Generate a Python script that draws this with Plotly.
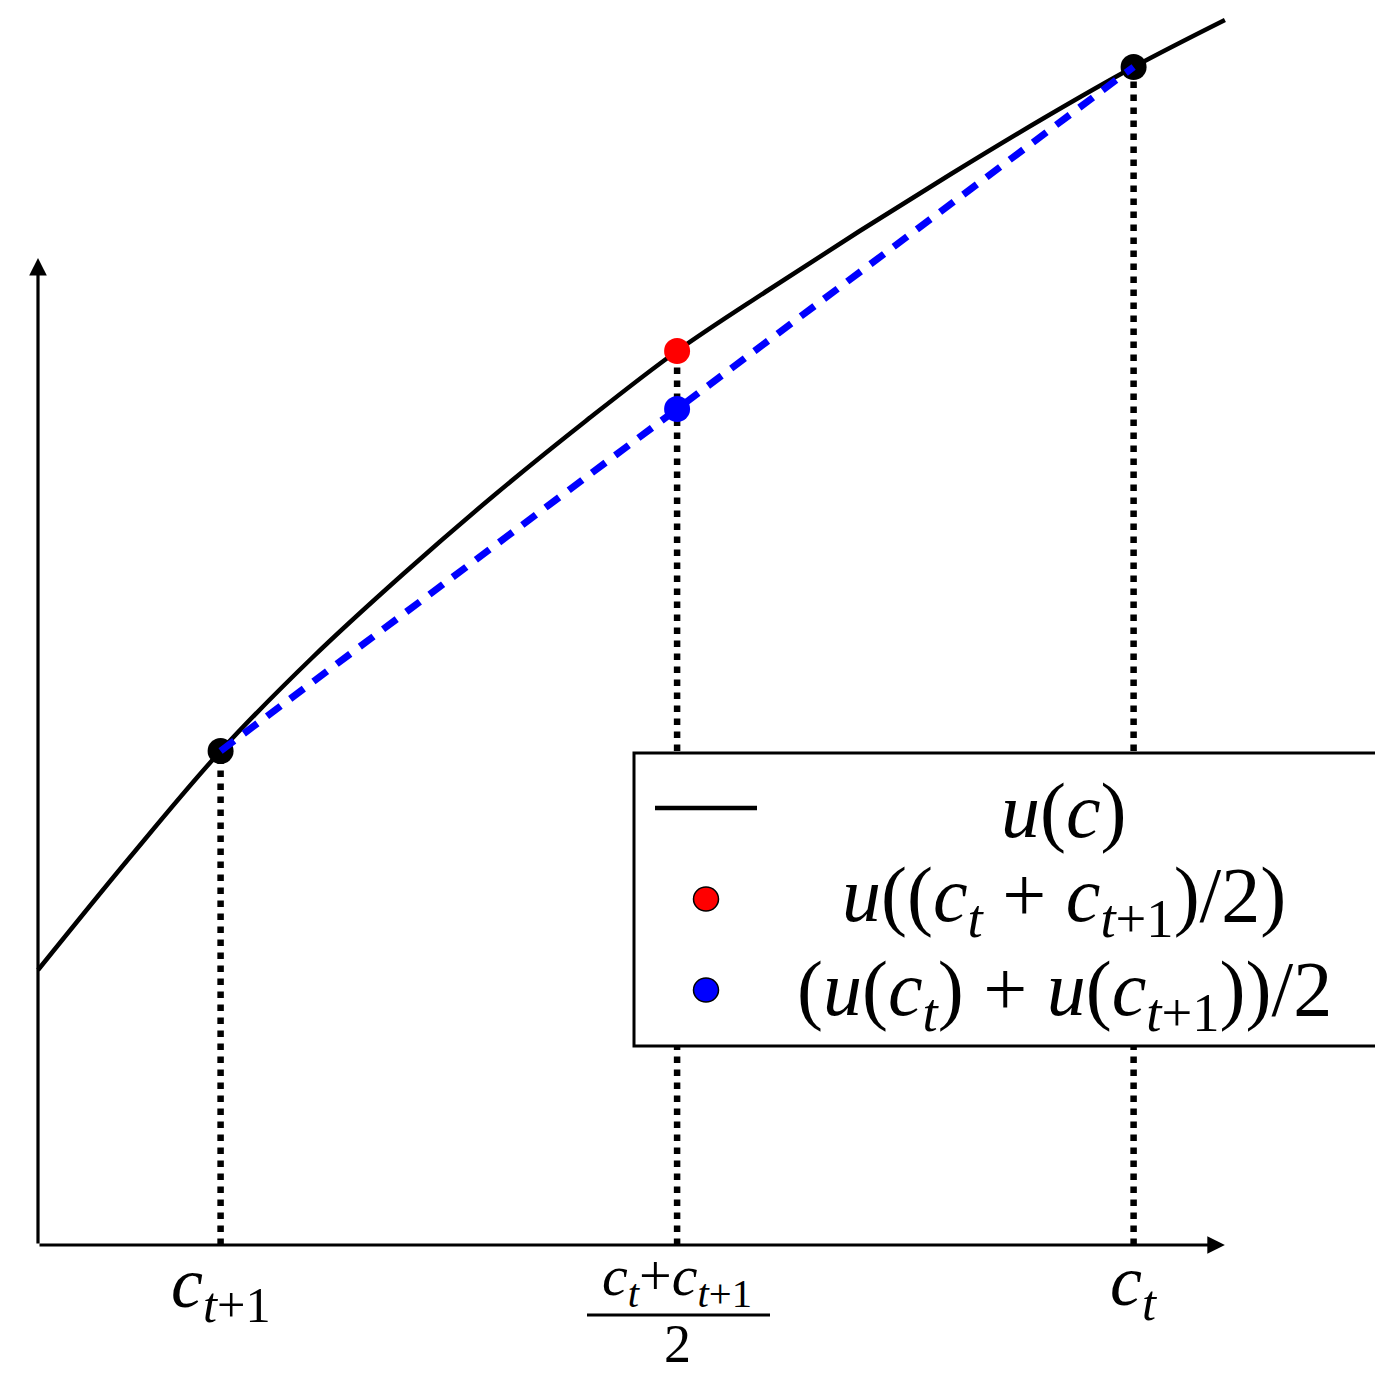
import plotly.graph_objects as go

# ---------------- data ----------------
c_grid = [0.0, 0.5, 1.0, 1.5, 2.0, 2.5, 3.0, 3.5, 4.0, 4.5, 5.0, 5.5, 6.0, 6.5]
u_vals = [2.75, 3.87, 4.94, 5.87, 6.71, 7.50, 8.24, 8.94, 9.55, 10.14, 10.71, 11.26, 11.78, 12.25]

c_points = [1.0, 6.0]          # c_{t+1}, c_t
u_points = [4.94, 11.78]       # u(c_{t+1}), u(c_t)
c_mid = [3.5]                  # (c_t + c_{t+1})/2
u_of_mid = [8.94]              # u((c_t + c_{t+1})/2)
mid_of_u = [8.36]              # (u(c_t) + u(c_{t+1}))/2

tick_vals = [1.0, 3.5, 6.0]
axis_x_end = 6.5
axis_y_end = 9.87

legend_labels = [
    "<i>u</i>(<i>c</i>)",
    "<i>u</i>((<i>c</i><sub><i>t</i></sub> + <i>c</i><sub><i>t</i>+1</sub>)/2)",
    "(<i>u</i>(<i>c</i><sub><i>t</i></sub>) + <i>u</i>(<i>c</i><sub><i>t</i>+1</sub>))/2",
]
tick_label_left = "<i>c</i><sub><i>t</i>+1</sub>"
tick_label_right = "<i>c</i><sub><i>t</i></sub>"
frac_num = "<i>c</i><sub><i>t</i></sub>+<i>c</i><sub><i>t</i>+1</sub>"
frac_den = "2"

# ---------------- figure ----------------
OFF = 8                      # default body margin of the html page
W, H = 1383 - OFF, 1390 - 2 * OFF - 8
FONT = "Liberation Serif"
XS = 182.6                   # px per x unit
YS = 100.0                   # px per y unit


def pxx(x):
    return (x - OFF) / W


def pxy(y):
    return 1 - (y - OFF) / H


x0_px = 38 - OFF
y0_px = 1245 - OFF

fig = go.Figure()

# dotted verticals
for cx, uy in zip(c_points + c_mid, u_points + u_of_mid):
    fig.add_trace(go.Scatter(x=[cx, cx], y=[0, uy], mode="lines",
                             line=dict(color="black", width=6.5, dash="dot"),
                             showlegend=False, hoverinfo="skip"))

# utility curve
fig.add_trace(go.Scatter(x=c_grid, y=u_vals, mode="lines",
                         line=dict(color="black", width=4.5, shape="spline", smoothing=1.0),
                         name="u(c)", showlegend=False))

# black endpoints
fig.add_trace(go.Scatter(x=c_points, y=u_points, mode="markers",
                         marker=dict(color="black", size=26),
                         showlegend=False))

# blue dashed chord
fig.add_trace(go.Scatter(x=c_points, y=u_points, mode="lines",
                         line=dict(color="blue", width=7, dash="17px,12px"),
                         showlegend=False))

# red & blue points
fig.add_trace(go.Scatter(x=c_mid, y=u_of_mid, mode="markers",
                         marker=dict(color="red", size=26), showlegend=False))
fig.add_trace(go.Scatter(x=c_mid, y=mid_of_u, mode="markers",
                         marker=dict(color="blue", size=26), showlegend=False))

annotations = []
# axes arrows
for (tx, ty) in [(axis_x_end, 0), (0, axis_y_end)]:
    annotations.append(dict(x=tx, y=ty, ax=0, ay=0, xref="x", yref="y", axref="x", ayref="y",
                            text="", showarrow=True, arrowhead=2, arrowsize=1.1, arrowwidth=3.2,
                            arrowcolor="black", standoff=0, startstandoff=0))

# tick labels
annotations.append(dict(x=tick_vals[0], y=pxy(1288), xref="x", yref="paper", text=tick_label_left,
                        showarrow=False, font=dict(family=FONT, size=72, color="black"),
                        xanchor="center", yanchor="middle"))
annotations.append(dict(x=tick_vals[2], y=pxy(1286), xref="x", yref="paper", text=tick_label_right,
                        showarrow=False, font=dict(family=FONT, size=72, color="black"),
                        xanchor="center", yanchor="middle"))
annotations.append(dict(x=tick_vals[1], y=pxy(1279), xref="x", yref="paper", text=frac_num,
                        showarrow=False, font=dict(family=FONT, size=58, color="black"),
                        xanchor="center", yanchor="middle"))
annotations.append(dict(x=tick_vals[1], y=pxy(1344), xref="x", yref="paper", text=frac_den,
                        showarrow=False, font=dict(family=FONT, size=54, color="black"),
                        xanchor="center", yanchor="middle"))

shapes = []
# fraction bar
shapes.append(dict(type="line", xref="paper", yref="paper", x0=pxx(587), x1=pxx(770),
                   y0=pxy(1315), y1=pxy(1315), line=dict(color="black", width=3)))

# manual legend box
shapes.append(dict(type="rect", xref="paper", yref="paper", x0=pxx(634), x1=pxx(1378),
                   y0=pxy(753), y1=pxy(1046), fillcolor="white",
                   line=dict(color="black", width=3), layer="above"))
shapes.append(dict(type="line", xref="paper", yref="paper", x0=pxx(655), x1=pxx(757),
                   y0=pxy(808), y1=pxy(808), line=dict(color="black", width=4.5), layer="above"))
for yy, col in [(899, "red"), (990, "blue")]:
    shapes.append(dict(type="circle", xref="paper", yref="paper", xsizemode="pixel",
                       ysizemode="pixel", xanchor=pxx(706), yanchor=pxy(yy),
                       x0=-12.5, x1=12.5, y0=-12, y1=12, fillcolor=col,
                       line=dict(color="black", width=1.5), layer="above"))

for yy, lab in zip([810, 900, 994], legend_labels):
    annotations.append(dict(x=pxx(1064), y=pxy(yy), xref="paper", yref="paper", text=lab,
                            showarrow=False, font=dict(family=FONT, size=78, color="black"),
                            xanchor="center", yanchor="middle"))

fig.update_layout(
    width=W, height=H,
    margin=dict(l=0, r=0, t=0, b=0),
    paper_bgcolor="white", plot_bgcolor="white",
    font=dict(family=FONT),
    xaxis=dict(range=[-x0_px / XS, (W - x0_px) / XS], visible=False, fixedrange=True),
    yaxis=dict(range=[-(H - y0_px) / YS, y0_px / YS], visible=False, fixedrange=True),
    annotations=annotations,
    shapes=shapes,
    showlegend=False,
)

fig.write_html("out.html")
